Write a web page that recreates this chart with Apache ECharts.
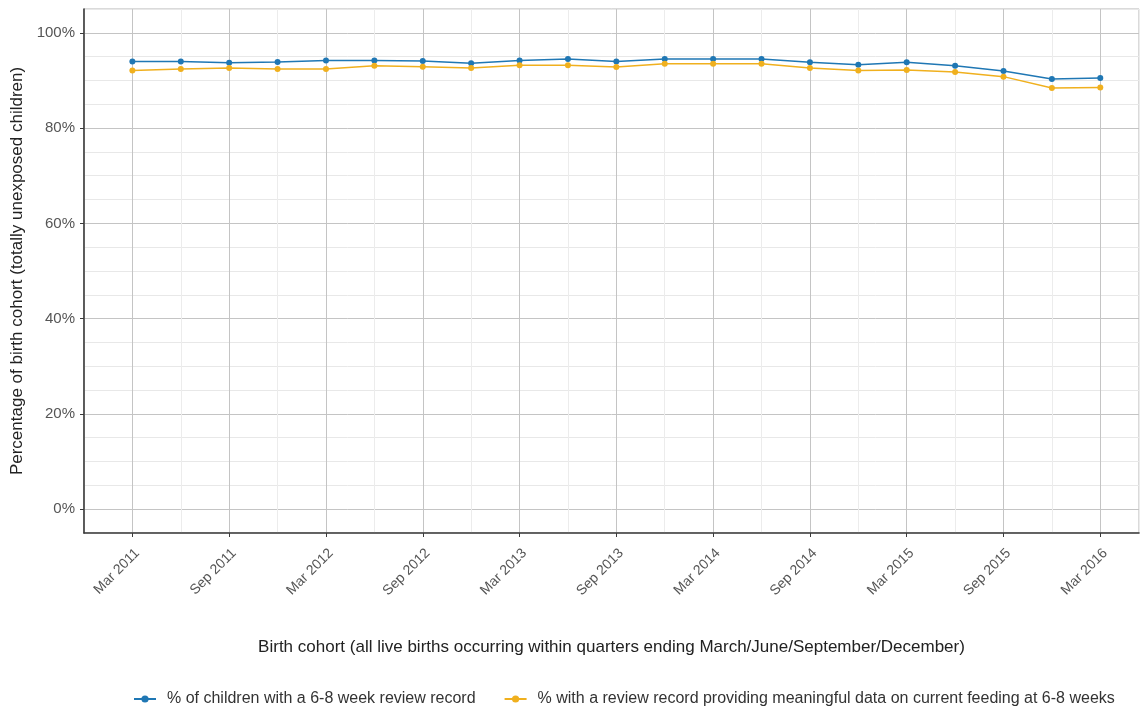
<!DOCTYPE html>
<html>
<head>
<meta charset="utf-8">
<script src="https://cdn.jsdelivr.net/npm/echarts@6/dist/echarts.min.js"></script>
<style>
html,body{margin:0;padding:0;background:#fff;}
#chart{width:1148px;height:715px;}
</style>
</head>
<body>
<div id="chart"></div>
<script>
const quarters = ['Mar 2011','Jun 2011','Sep 2011','Dec 2011','Mar 2012','Jun 2012','Sep 2012','Dec 2012',
  'Mar 2013','Jun 2013','Sep 2013','Dec 2013','Mar 2014','Jun 2014','Sep 2014','Dec 2014',
  'Mar 2015','Jun 2015','Sep 2015','Dec 2015','Mar 2016'];
const reviewRecord = [94.0, 94.0, 93.7, 93.9, 94.2, 94.2, 94.1, 93.6, 94.2, 94.5, 94.0, 94.5, 94.5, 94.5, 93.8, 93.3, 93.8, 93.1, 92.0, 90.3, 90.5];
const feedingData = [92.1, 92.4, 92.6, 92.4, 92.4, 93.1, 92.9, 92.6, 93.2, 93.2, 92.8, 93.5, 93.5, 93.5, 92.6, 92.1, 92.2, 91.8, 90.8, 88.4, 88.5];
const xTickLabels = ['Mar 2011','Sep 2011','Mar 2012','Sep 2012','Mar 2013','Sep 2013','Mar 2014','Sep 2014','Mar 2015','Sep 2015','Mar 2016'];
const yTickValues = [0, 20, 40, 60, 80, 100];
const seriesNames = ['% of children with a 6-8 week review record','% with a review record providing meaningful data on current feeding at 6-8 weeks'];
const colors = ['#1f77b4', '#f0b01e'];

const xTickValues = xTickLabels.map(l => quarters.indexOf(l));
const font = 'Liberation Sans, Arial, sans-serif';
const X_MIN = -1, X_MAX = 20.8, Y_MIN = -5, Y_MAX = 105;

const chart = echarts.init(document.getElementById('chart'), null, {renderer: 'canvas'});
chart.setOption({
  animation: false,
  textStyle: {fontFamily: font},
  grid: {left: 84, right: 9, top: 9, bottom: 182, show: true, borderColor: '#b4b4b4', borderWidth: 1, backgroundColor: '#fff'},
  legend: {
    bottom: 3, left: 128, itemWidth: 22, itemHeight: 9, itemGap: 28,
    textStyle: {fontFamily: font, fontSize: 16, color: '#333', padding: [0, 0, 0, 6]},
    data: seriesNames
  },
  xAxis: [
    {
      type: 'value', min: X_MIN, max: X_MAX, interval: 1, position: 'bottom',
      axisLine: {show: false}, axisTick: {show: false}, axisLabel: {show: false},
      splitLine: {show: true, lineStyle: {color: ['#ececec', '#c4c4c4'], width: 1}}
    },
    {
      type: 'value', min: X_MIN, max: X_MAX, position: 'bottom',
      name: 'Birth cohort (all live births occurring within quarters ending March/June/September/December)',
      nameLocation: 'middle', nameGap: 106,
      nameTextStyle: {fontFamily: font, fontSize: 17, color: '#222'},
      axisLine: {show: true, onZero: false, lineStyle: {color: '#3a3a3a', width: 1.6}},
      axisTick: {show: true, customValues: xTickValues, length: 4, lineStyle: {color: '#3a3a3a'}},
      axisLabel: {show: true, customValues: xTickValues, rotate: 45, margin: 13, verticalAlign: 'top',
        fontFamily: font, fontSize: 14, color: '#555',
        formatter: v => quarters[Math.round(v)] || ''},
      splitLine: {show: false}
    }
  ],
  yAxis: [
    {
      type: 'value', min: Y_MIN, max: Y_MAX, interval: 5, position: 'left',
      axisLine: {show: false}, axisTick: {show: false}, axisLabel: {show: false},
      splitLine: {show: true, lineStyle: {color: ['#e8e8e8', '#c4c4c4', '#e8e8e8', '#e8e8e8'], width: 1}}
    },
    {
      type: 'value', min: Y_MIN, max: Y_MAX, position: 'left',
      name: 'Percentage of birth cohort (totally unexposed children)',
      nameLocation: 'middle', nameGap: 58,
      nameTextStyle: {fontFamily: font, fontSize: 17, color: '#222'},
      axisLine: {show: true, onZero: false, lineStyle: {color: '#3a3a3a', width: 1.6}},
      axisTick: {show: true, customValues: yTickValues, length: 4, lineStyle: {color: '#3a3a3a'}},
      axisLabel: {show: true, customValues: yTickValues, margin: 9,
        fontFamily: font, fontSize: 15, color: '#555',
        formatter: v => Math.round(v) + '%'},
      splitLine: {show: false}
    }
  ],
  series: [
    {name: seriesNames[0], type: 'line', xAxisIndex: 1, yAxisIndex: 1, data: reviewRecord.map((v, i) => [i, v]),
     symbol: 'circle', symbolSize: 6, itemStyle: {color: colors[0]}, lineStyle: {color: colors[0], width: 1.5}},
    {name: seriesNames[1], type: 'line', xAxisIndex: 1, yAxisIndex: 1, data: feedingData.map((v, i) => [i, v]),
     symbol: 'circle', symbolSize: 6, itemStyle: {color: colors[1]}, lineStyle: {color: colors[1], width: 1.5}}
  ]
});
</script>
</body>
</html>
